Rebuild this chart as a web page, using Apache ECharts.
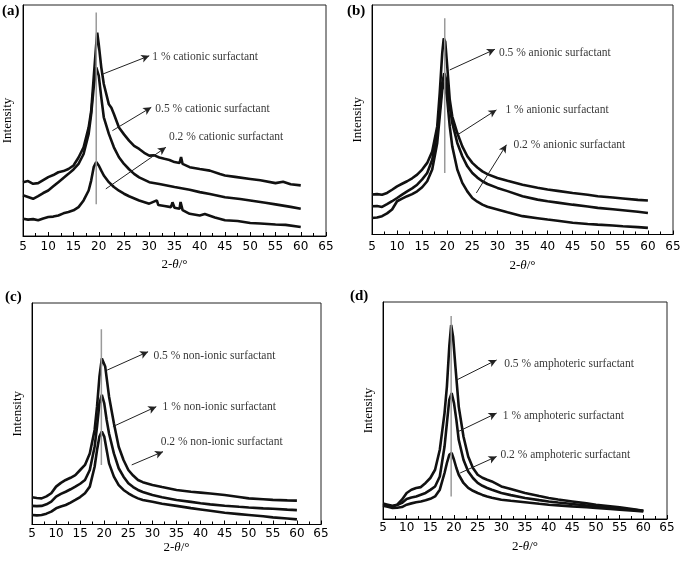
<!DOCTYPE html>
<html>
<head>
<meta charset="utf-8">
<script src="https://cdn.jsdelivr.net/npm/echarts@6/dist/echarts.min.js"></script>
<style>html,body{margin:0;padding:0;background:#fff}#c{width:685px;height:562px}</style>
</head>
<body>
<div id="c"></div>
<script>
// ---------- DATA ----------
const panelLabels = ['(a)', '(b)', '(c)', '(d)'];
const xLabel = '2-{i|θ}/°';
const yLabel = 'Intensity';

// (a) cationic
const a_1pct = [[5,23.3],[6,23.8],[7,22.6],[8,22.9],[9,24.2],[10,25.5],[11,26.4],[12,27.6],[13,28.1],[14,29],[15,30.5],[16,34],[17,38.4],[18,47],[18.5,54],[19,68.6],[19.5,83],[19.7,88],[20,83],[20.5,73],[21,65.8],[22,57],[22.5,55.5],[23,52.8],[24,47],[25,44],[26,41.3],[27,39],[28,37.7],[29,36],[30,34.8],[31,34.9],[32,34],[33,33.4],[34,32.9],[35,32],[36,31.6],[36.3,34.2],[36.6,31.2],[38,29.8],[40,29],[42,28.3],[44,26.8],[45,26.2],[47,25.6],[50,24.7],[52,24.1],[55,22.9],[56.5,23.5],[58,22.4],[60,21.9]];
const a_05pct = [[5,17.6],[6,16.9],[7,16.1],[8,17.3],[9,18.6],[10,19.7],[11,21.5],[12,23.3],[13,25.1],[14,26.9],[15,28.8],[16,31.2],[17,35.5],[18,44.2],[18.5,52.8],[19,64.3],[19.5,73],[19.8,73.7],[20,69.4],[20.5,60],[21,51.4],[22,44.2],[23,38.4],[24,34.1],[25,31.2],[26,28.9],[27,26.9],[28,25.4],[30,23.3],[32,22.5],[35,21.2],[38,20],[40,19],[42,18.2],[45,16.8],[48,16],[50,15.4],[53,14.4],[55,13.7],[58,12.6],[60,11.8]];
const a_02pct = [[5,7.5],[6,7.1],[7,7.3],[8,6.8],[9,7.6],[10,8.2],[11,8.4],[12,8.9],[13,9.8],[14,10.4],[15,11.1],[16,12.5],[17,15.4],[18,19.7],[18.5,24],[19,29.8],[19.5,32],[20,30.5],[20.5,28.3],[21,26.2],[22,23.3],[23,21.2],[24,19.6],[25,18.3],[26,17.2],[28,15.4],[30,14],[31.5,15.4],[31.8,13.4],[33,13],[34.3,12.5],[34.6,14.6],[35,12.2],[36,11.8],[36.2,14.7],[36.6,11.2],[38,9.6],[40,8.9],[41,9.5],[43,8],[45,6.8],[47.5,6.5],[50,5.6],[52,5.4],[55,5],[57,4.8],[60,3.9]];
const a_peakLine = [[19.5,96.7],[19.5,13.7]];
const a_arrows = [[[20.8,70.1],[30.0,78.0]], [[22.7,45.6],[30.4,55.7]], [[21.4,20.4],[33.3,38.4]]];
const a_texts = [[30.4,77.6,'1 % cationic surfactant'], [31.0,55.0,'0.5 % cationic surfactant'], [33.7,42.7,'0.2 % cationic surfactant']];

// (b) anionic
const b_05pct = [[5,17.4],[6,17.6],[7,17.3],[8,18.1],[9,19.5],[10,21],[11,22.1],[12,23.2],[13,24.5],[14,26.1],[15,28.3],[16,31.2],[17,36.2],[18,47.1],[18.5,61.6],[19,79],[19.3,85.5],[19.6,84],[20,73.2],[20.5,58.7],[21,51.4],[22,44.2],[23,38.4],[24,34.1],[25,31.2],[26,29.2],[27,27.5],[28,26.3],[30,24.6],[32,23.4],[35,21.7],[38,20.4],[40,19.6],[42,19],[45,18.1],[48,17.3],[50,16.7],[53,16.1],[55,15.7],[58,15.1],[60,14.8]];
const b_1pct = [[5,12.3],[6,12.4],[7,12],[8,13.2],[9,14.5],[10,15.9],[11,17.4],[12,18.8],[13,20.1],[14,21.7],[15,24],[16,26.8],[17,32.6],[18,44.2],[18.5,54.3],[19,65.9],[19.4,70.3],[19.8,67.4],[20.2,60.1],[21,48.6],[22,39.9],[23,34.1],[24,29.7],[25,26.8],[26,24.8],[27,23.2],[28,22],[30,20.3],[32,18.9],[35,16.7],[38,15.2],[40,14.5],[42,13.9],[45,13],[48,12.2],[50,11.6],[53,11],[55,10.6],[58,9.9],[60,9.4]];
const b_02pct = [[5,7.2],[6,7.4],[7,8],[8,9.2],[9,10.9],[10,14.5],[11,15.6],[12,16.7],[13,17.6],[14,18.8],[15,20.6],[16,23.2],[17,28.3],[18,39.9],[18.5,51.4],[19,63],[19.5,66.7],[20,58.7],[20.5,47.1],[21,38.4],[22,28.3],[23,22.5],[24,18.8],[25,15.9],[26,14.3],[27,13],[28,12.1],[30,10.9],[32,9.7],[35,8],[38,7.1],[40,6.5],[42,6],[45,5.1],[48,4.6],[50,4.3],[53,3.9],[55,3.6],[58,3.2],[60,2.9]];
const b_peakLine = [[19.5,94.2],[19.5,26.8]];
const b_arrows = [[[20.5,71.7],[29.5,80.7]], [[22.1,43.5],[29.8,54.3]], [[25.8,18.1],[31.8,39.1]]];
const b_texts = [[30.1,79,'0.5 % anionic surfactant'], [31.4,54.3,'1 % anionic surfactant'], [33.0,39.1,'0.2 % anionic surfactant']];

// (c) non-ionic
const c_05pct = [[5,12.3],[6,12],[7,11.8],[8,12.7],[9,14.1],[10,17.1],[11,18.8],[12,20.1],[13,21.1],[14,22.3],[15,24.6],[16,26.9],[17,32.1],[18,42.7],[18.5,53.2],[19,66.7],[19.5,75],[19.8,75.5],[20.2,71.3],[21,57.7],[22,45.7],[23,35.1],[24,29.1],[25,24.6],[26,22.1],[27,20.1],[28,19.1],[30,17.8],[32,16.9],[35,15.6],[38,14.8],[40,14.4],[42,14],[45,13.3],[48,12.4],[50,11.8],[53,11.4],[55,11.1],[58,10.9],[60,10.8]];
const c_1pct = [[5,8.4],[6,8.3],[7,8.4],[8,9.1],[9,10.3],[10,12.6],[11,13.8],[12,14.8],[13,15.9],[14,17.1],[15,18.4],[16,20.1],[17,24.6],[18,35.1],[18.5,44.2],[19,54.7],[19.5,58.5],[20,54.7],[20.5,47.2],[21,41.1],[22,32.1],[23,25.4],[24,21.6],[25,18.6],[26,16.9],[27,15.6],[28,14.7],[30,13.3],[32,12.3],[35,11.1],[38,10.2],[40,9.6],[42,9.1],[45,8.5],[48,8],[50,7.7],[53,7.3],[55,7.1],[58,6.7],[60,6.5]];
const c_02pct = [[5,4.3],[6,4.1],[7,4.3],[8,4.9],[9,5.8],[10,7.3],[11,8.1],[12,8.8],[13,9.9],[14,11.1],[15,12.4],[16,14.1],[17,17.1],[18,26.1],[18.5,33.6],[19,39.7],[19.5,41.9],[20,39.7],[20.5,33.6],[21,27.6],[22,21.6],[23,17.8],[24,15.6],[25,14.1],[26,12.8],[27,11.8],[28,11.1],[30,10.3],[32,9.4],[35,8.4],[38,7.4],[40,6.8],[42,6.2],[45,5.3],[48,4.7],[50,4.3],[53,3.7],[55,3.2],[58,2.7],[60,2.3]];
const c_peakLine = [[19.4,88.1],[19.4,26.9]];
const c_arrows = [[[20.6,69.7],[29.1,78.0]], [[21.8,44.2],[30.8,53.2]], [[25.7,26.9],[32.2,32.9]]];
const c_texts = [[30.0,76.1,'0.5 % non-ionic surfactant'], [31.9,53.2,'1 % non-ionic surfactant'], [31.5,37.1,'0.2 % non-ionic surfactant']];

// (d) amphoteric
const d_05pct = [[5,7.1],[6,6.6],[7,6.1],[8,6.6],[9,8.9],[10,12],[11,13.5],[12,14.3],[13,14.7],[14,16.6],[15,18.9],[16,22.7],[17,31.9],[18,48.8],[18.5,61],[19,79.4],[19.4,89.4],[19.8,84],[20.3,70.2],[21,51.8],[22,38],[23,28.8],[24,23.5],[25,20.4],[26,19],[27,18.1],[28,17.3],[30,15],[32,13.8],[35,12],[38,10.6],[40,9.7],[42,9],[45,8.1],[48,7.2],[50,6.6],[53,5.9],[55,5.4],[58,4.5],[60,3.8]];
const d_1pct = [[5,6.6],[6,6.2],[7,5.8],[8,6.4],[9,7.4],[10,9.2],[11,9.9],[12,10.4],[13,11.2],[14,12],[15,13.4],[16,15],[17,19.6],[18,33.4],[18.5,44.2],[19,54.9],[19.5,58],[20,53.4],[20.5,45.7],[21,36.5],[22,27.3],[23,21.9],[24,18.9],[25,16.6],[26,15.3],[27,14.3],[28,13.5],[30,12],[32,11],[35,9.7],[38,8.7],[40,8.1],[42,7.6],[45,6.9],[48,6.2],[50,5.8],[53,5.2],[55,4.8],[58,4.2],[60,3.8]];
const d_02pct = [[5,6.1],[6,5.6],[7,5.1],[8,5.2],[9,5.5],[10,6.6],[11,7.2],[12,7.7],[13,8.1],[14,8.6],[15,9.3],[16,10.4],[17,13.5],[18,21.2],[18.5,25.8],[19,29.6],[19.5,30.4],[20,27.3],[20.5,23.5],[21,20.4],[22,16.6],[23,14.3],[24,13],[25,12],[26,11.1],[27,10.4],[28,9.8],[30,8.9],[32,8.4],[35,7.7],[38,7],[40,6.6],[42,6.3],[45,5.8],[48,5.4],[50,5.1],[53,4.6],[55,4.3],[58,3.8],[60,3.5]];
const d_peakLine = [[19.4,93.6],[19.4,10.4]];
const d_arrows = [[[20.6,64.1],[29.0,73.3]], [[20.9,40.3],[29.0,48.8]], [[21.3,21.2],[29.0,28.8]]];
const d_texts = [[30.4,71.3,'0.5 % amphoteric surfactant'], [30.1,47.5,'1 % amphoteric surfactant'], [29.6,29.3,'0.2 % amphoteric surfactant']];

// ---------- LAYOUT ----------
const panels = [
  {curves:[a_1pct,a_05pct,a_02pct], peak:a_peakLine, arrows:a_arrows, texts:a_texts,
   grid:{left:23, top:5, width:303, height:231}, nameGap:22, yNameGap:9, labelMargin:5, title:{left:2, top:4}},
  {curves:[b_05pct,b_1pct,b_02pct], peak:b_peakLine, arrows:b_arrows, texts:b_texts,
   grid:{left:372, top:5, width:301, height:229.5}, nameGap:25, yNameGap:7.5, labelMargin:6, title:{left:347, top:4}},
  {curves:[c_05pct,c_1pct,c_02pct], peak:c_peakLine, arrows:c_arrows, texts:c_texts,
   grid:{left:32, top:303, width:289, height:221.5}, nameGap:16.5, yNameGap:7.5, labelMargin:3.5, title:{left:5, top:290}},
  {curves:[d_05pct,d_1pct,d_02pct], peak:d_peakLine, arrows:d_arrows, texts:d_texts,
   grid:{left:383, top:302, width:284, height:217}, nameGap:21, yNameGap:7.5, labelMargin:3, title:{left:350, top:289}}
];

const SERIF = '"Liberation Serif", "Times New Roman", serif';
const SANS = '"DejaVu Sans", "Liberation Sans", Arial, sans-serif';

const grids = [], xAxes = [], yAxes = [], series = [], titles = [];
panels.forEach((p, i) => {
  grids.push(Object.assign({show:true, borderColor:'#222', borderWidth:1, backgroundColor:'transparent'}, p.grid));
  titles.push({text:panelLabels[i], left:p.title.left, top:p.title.top, padding:0,
    textStyle:{fontFamily:SERIF, fontSize:15, fontWeight:'bold', color:'#000'}});
  xAxes.push({type:'value', gridIndex:i, min:5, max:65, interval:5,
    axisLine:{show:true, lineStyle:{color:'#000', width:1}},
    axisTick:{show:true, inside:true, length:4, lineStyle:{color:'#000'}},
    minorTick:{show:true, splitNumber:2, length:3, lineStyle:{color:'#000'}},
    splitLine:{show:false},
    axisLabel:{color:'#000', fontFamily:SANS, fontSize:12, margin:p.labelMargin},
    name:xLabel, nameLocation:'middle', nameGap:p.nameGap,
    nameTextStyle:{fontFamily:SERIF, fontSize:13, color:'#000',
      rich:{i:{fontFamily:SERIF, fontSize:13, fontStyle:'italic', color:'#000'}}},
  });
  yAxes.push({type:'value', gridIndex:i, min:0, max:100,
    axisLine:{show:true, lineStyle:{color:'#000'}}, axisTick:{show:false}, axisLabel:{show:false},
    splitLine:{show:false},
    name:yLabel, nameLocation:'middle', nameGap:p.yNameGap,
    nameTextStyle:{fontFamily:SERIF, fontSize:13, color:'#000'}});
  p.curves.forEach(c => {
    series.push({type:'line', xAxisIndex:i, yAxisIndex:i, data:c, showSymbol:false, symbol:'none',
      lineStyle:{color:'#111', width:2.6}, animation:false, silent:true, z:2});
  });
  series.push({type:'line', xAxisIndex:i, yAxisIndex:i, data:p.peak, showSymbol:false, symbol:'none',
    lineStyle:{color:'#9a9a9a', width:1.5}, animation:false, silent:true, z:3,
    markLine:{silent:true, animation:false, symbol:['none','arrow'], symbolSize:[6,8],
      label:{show:false}, lineStyle:{color:'#222', width:1, type:'solid'},
      emphasis:{disabled:true},
      data:p.arrows.map(a => [{coord:a[0]}, {coord:a[1]}])}});
  series.push({type:'scatter', xAxisIndex:i, yAxisIndex:i, symbolSize:0, animation:false, silent:true, z:4,
    data:p.texts.map(t => ({value:[t[0], t[1]], name:t[2]})),
    label:{show:true, position:'right', distance:1, formatter:'{b}', color:'#000',
      fontFamily:SERIF, fontSize:11.5}});
});

const chart = echarts.init(document.getElementById('c'), null, {renderer:'canvas'});
chart.setOption({animation:false, backgroundColor:'#fff', title:titles, grid:grids, xAxis:xAxes, yAxis:yAxes, series:series});
</script>
</body>
</html>
